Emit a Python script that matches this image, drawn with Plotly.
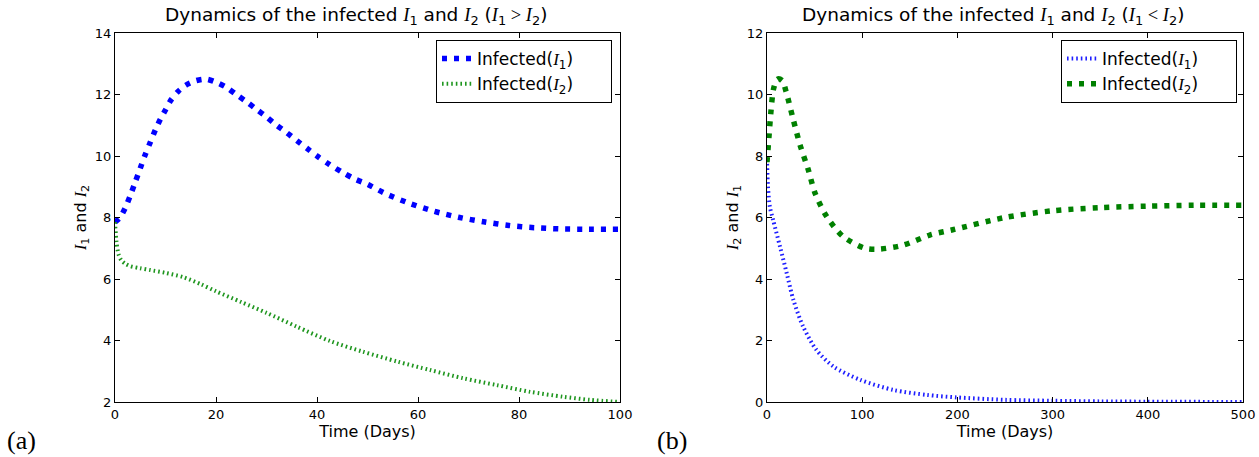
import plotly.graph_objects as go
from plotly.subplots import make_subplots

# ---------------- data ----------------
# Panel (a): I1 > I2, time 0..100 days
t_a_I1 = [0, 1, 2, 3, 4, 5, 6, 7, 8, 9, 10, 11, 12.5, 14, 16, 18, 20, 22, 24, 26, 28,
          30, 32, 34, 36, 38, 40, 42.5, 45, 47.5, 50, 53.5, 58, 63, 68, 73, 78, 83, 88, 93, 100]
I1_a = [7.85, 8.0, 8.3, 8.7, 9.15, 9.6, 10.05, 10.45, 10.85, 11.2, 11.5, 11.8, 12.1, 12.3,
        12.45, 12.5, 12.4, 12.24, 12.0, 11.77, 11.52, 11.27, 11.0, 10.76, 10.5, 10.25, 10.0,
        9.72, 9.47, 9.25, 9.08, 8.78, 8.48, 8.21, 8.01, 7.86, 7.74, 7.67, 7.63, 7.62, 7.62]
t_a_I2 = [0, 0.3, 0.7, 1.2, 2, 3, 5, 7, 10, 13.5, 17, 20, 25, 30, 36, 42.6, 49, 56, 62.4,
          69, 75.6, 82.2, 88.8, 94, 100]
I2_a = [7.85, 7.2, 6.8, 6.62, 6.5, 6.42, 6.35, 6.29, 6.2, 6.06, 5.83, 5.6, 5.25, 4.9, 4.45,
        3.98, 3.64, 3.31, 3.04, 2.77, 2.55, 2.33, 2.17, 2.07, 2.0]

# Panel (b): I1 < I2, time 0..500 days
t_b_I1 = [0, 1, 3, 6.6, 13.7, 20.7, 27.7, 38, 52, 70, 98, 133, 168, 199, 250, 300, 350, 400, 500]
I1_b = [7.9, 7.0, 6.35, 5.9, 5.05, 4.19, 3.32, 2.45, 1.69, 1.15, 0.72, 0.39, 0.23, 0.15,
        0.07, 0.04, 0.02, 0.01, 0.0]
t_b_I2 = [0, 2, 4, 7, 11, 16, 20, 27.7, 34.7, 43.4, 50.4, 62.7, 80, 103, 117, 143, 171, 195,
          250, 300, 350, 400, 450, 500]
I2_b = [7.8, 8.6, 9.4, 10.2, 10.5, 10.45, 10.1, 9.17, 8.36, 7.55, 6.8, 6.03, 5.38, 5.0, 4.97,
        5.1, 5.43, 5.6, 6.0, 6.22, 6.32, 6.37, 6.4, 6.4]

xticks_a = [0, 20, 40, 60, 80, 100]
yticks_a = [2, 4, 6, 8, 10, 12, 14]
xticks_b = [0, 100, 200, 300, 400, 500]
yticks_b = [0, 2, 4, 6, 8, 10, 12]

# ---------------- helpers ----------------
SERIF = "Liberation Serif"
SANS = "DejaVu Sans"


def I(n):
    return ('<span style="font-family:\'%s\'"><i>I</i></span><sub>%s</sub>' % (SERIF, n))


def MATH(s):
    return '<span style="font-family:\'%s\'">%s</span>' % (SERIF, s)


PAD = "&nbsp;" * 6

W, H = 1259, 457
xa0, xa1 = 115 / W, 620 / W
xb0, xb1 = 767 / W, 1243 / W
y0, y1 = (H - 402) / H, (H - 33) / H

fig = make_subplots(rows=1, cols=2)

thick = dict(width=5.5, dash="5px,7px")
thin = dict(width=4, dash="1.6px,3px")

fig.add_trace(go.Scatter(x=t_a_I1, y=I1_a, mode="lines", name="Infected(" + I(1) + ")" + PAD,
                         line=dict(color="#0000ff", shape="spline", smoothing=0.8, **thick),
                         legend="legend"), row=1, col=1)
fig.add_trace(go.Scatter(x=t_a_I2, y=I2_a, mode="lines", name="Infected(" + I(2) + ")" + PAD,
                         line=dict(color="#1f961f", shape="spline", smoothing=0.8, **thin),
                         legend="legend"), row=1, col=1)
fig.add_trace(go.Scatter(x=t_b_I1, y=I1_b, mode="lines", name="Infected(" + I(1) + ")" + PAD,
                         line=dict(color="#1f1fff", shape="spline", smoothing=0.8, **thin),
                         legend="legend2"), row=1, col=2)
fig.add_trace(go.Scatter(x=t_b_I2, y=I2_b, mode="lines", name="Infected(" + I(2) + ")" + PAD,
                         line=dict(color="#008000", shape="spline", smoothing=0.8, **thick),
                         legend="legend2"), row=1, col=2)

axis_common = dict(showline=True, linecolor="black", linewidth=1, mirror="ticks",
                   ticks="inside", ticklen=5, tickcolor="black", tickwidth=1,
                   showgrid=False, zeroline=False, automargin=False,
                   tickfont=dict(family=SANS, size=13, color="black"))

xt_font = dict(family=SANS, size=16, color="black")

fig.update_xaxes(domain=[xa0, xa1], range=[0, 100], tickvals=xticks_a,
                 title=dict(text="Time (Days)", font=xt_font, standoff=2),
                 **axis_common, row=1, col=1)
fig.update_yaxes(domain=[y0, y1], range=[2, 14], tickvals=yticks_a,
                 title=dict(text=I(1) + " and " + I(2), font=xt_font, standoff=4),
                 **axis_common, row=1, col=1)
fig.update_xaxes(domain=[xb0, xb1], range=[0, 500], tickvals=xticks_b,
                 title=dict(text="Time (Days)", font=xt_font, standoff=2),
                 **axis_common, row=1, col=2)
fig.update_yaxes(domain=[y0, y1], range=[0, 12], tickvals=yticks_b,
                 title=dict(text=I(2) + " and " + I(1), font=xt_font, standoff=4),
                 **axis_common, row=1, col=2)

legend_common = dict(bgcolor="white", bordercolor="black", borderwidth=1,
                     font=dict(family=SANS, size=17, color="black"),
                     xanchor="right", yanchor="top", xref="paper", yref="paper",
                     tracegroupgap=0, itemwidth=30)

fig.update_layout(
    width=W, height=H,
    margin=dict(l=0, r=0, t=0, b=0),
    paper_bgcolor="white", plot_bgcolor="white",
    showlegend=True,
    legend=dict(x=612 / W, y=(H - 40) / H, **legend_common),
    legend2=dict(x=1237 / W, y=(H - 40) / H, **legend_common),
)

title_a = ("Dynamics of the infected " + I(1) + " and " + I(2) + " (" + I(1) +
           MATH(" &gt; ") + I(2) + ")")
title_b = ("Dynamics of the infected " + I(1) + " and " + I(2) + " (" + I(1) +
           MATH(" &lt; ") + I(2) + ")")

fig.add_annotation(text=title_a, x=(xa0 + xa1) / 2 - 12 / W, y=(H - 30) / H,
                   xref="paper", yref="paper",
                   xanchor="center", yanchor="bottom", showarrow=False,
                   font=dict(family=SANS, size=18.5, color="black"))
fig.add_annotation(text=title_b, x=(xb0 + xb1) / 2 - 12 / W, y=(H - 30) / H,
                   xref="paper", yref="paper",
                   xanchor="center", yanchor="bottom", showarrow=False,
                   font=dict(family=SANS, size=18.5, color="black"))

fig.add_annotation(text="(a)", x=5 / W, y=(H - 440) / H, xref="paper", yref="paper",
                   xanchor="left", yanchor="middle", showarrow=False,
                   font=dict(family=SERIF, size=26, color="black"))
fig.add_annotation(text="(b)", x=655 / W, y=(H - 440) / H, xref="paper", yref="paper",
                   xanchor="left", yanchor="middle", showarrow=False,
                   font=dict(family=SERIF, size=26, color="black"))

fig.write_html("out.html",
               config={"displayModeBar": False},
               post_script="document.body.style.margin='0';document.body.style.overflow='hidden';")
